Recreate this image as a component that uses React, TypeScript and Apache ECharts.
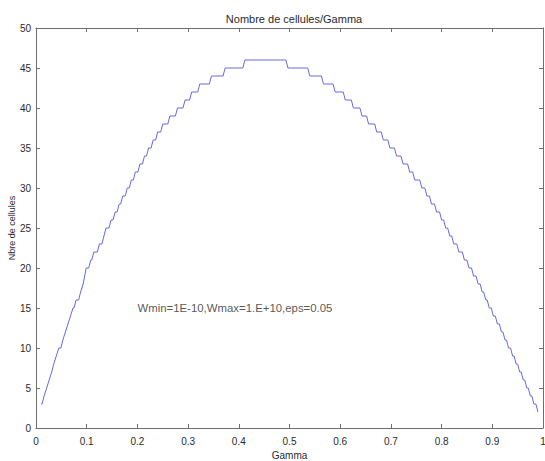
import React, { useEffect, useRef } from "react";
import * as echarts from "echarts";

const titleText = "Nombre de cellules/Gamma";
const xName = "Gamma";
const yName = "Nbre de cellules";
const annotationText = "Wmin=1E-10,Wmax=1.E+10,eps=0.05";
const annotationPos = [0.2, 15];

// gamma at which each cell-count level begins (staircase breakpoints)
const gammaBreaks = [
  0.010, 0.016, 0.021, 0.026, 0.031, 0.035, 0.040, 0.045, 0.053, 0.058,
  0.063, 0.068, 0.073, 0.079, 0.088, 0.093, 0.096, 0.099, 0.108, 0.114,
  0.125, 0.134, 0.138, 0.148, 0.156, 0.164, 0.171, 0.180, 0.188, 0.196,
  0.205, 0.214, 0.222, 0.231, 0.240, 0.250, 0.264, 0.279, 0.294, 0.307,
  0.323, 0.346, 0.373, 0.412,
  0.497, 0.540, 0.567, 0.590, 0.610, 0.626, 0.643, 0.656, 0.672, 0.685,
  0.698, 0.711, 0.724, 0.737, 0.747, 0.761, 0.771, 0.780, 0.790, 0.800,
  0.808, 0.816, 0.824, 0.834, 0.845, 0.854, 0.863, 0.872, 0.880, 0.887,
  0.894, 0.902, 0.910, 0.918, 0.925, 0.932, 0.940, 0.947, 0.954, 0.961,
  0.968, 0.975, 0.982, 0.990,
];
const cellCounts = [
  3, 4, 5, 6, 7, 8, 9, 10, 11, 12,
  13, 14, 15, 16, 17, 18, 19, 20, 21, 22,
  23, 24, 25, 26, 27, 28, 29, 30, 31, 32,
  33, 34, 35, 36, 37, 38, 39, 40, 41, 42,
  43, 44, 45, 46,
  45, 44, 43, 42, 41, 40, 39, 38, 37, 36,
  35, 34, 33, 32, 31, 30, 29, 28, 27, 26,
  25, 24, 23, 22, 21, 20, 19, 18, 17, 16,
  15, 14, 13, 12, 11, 10, 9, 8, 7, 6,
  5, 4, 3, 2,
];
// width (in gamma) of the slanted riser between two levels
const riserWidth = 0.004;

const FONT = "'Liberation Sans', Arial, sans-serif";
const AXIS_COLOR = "#6e6e6e";
const TEXT_COLOR = "#2a2a2a";

export default function App() {
  const ref = useRef<HTMLDivElement>(null);
  useEffect(() => {
    if (!ref.current) return;
    const chart = echarts.init(ref.current, undefined, { renderer: "svg" });
    const data: number[][] = [];
    gammaBreaks.forEach((g, i) => {
      data.push([g, cellCounts[i]]);
      const next = gammaBreaks[i + 1];
      if (next !== undefined && next - g > riserWidth) {
        data.push([next - riserWidth, cellCounts[i]]);
      }
    });
    const axisLine = { show: true, onZero: false, lineStyle: { color: AXIS_COLOR, width: 1 } };
    const axisTick = { show: true, inside: true, length: 4, lineStyle: { color: AXIS_COLOR } };
    chart.setOption({
      animation: false,
      backgroundColor: "#ffffff",
      textStyle: { fontFamily: FONT },
      title: {
        text: titleText,
        left: 289,
        top: 8,
        textAlign: "center",
        textStyle: { fontSize: 11, fontWeight: "normal", color: TEXT_COLOR, fontFamily: FONT },
      },
      grid: {
        left: 36,
        right: 2,
        top: 28,
        bottom: 33,
        containLabel: false,
        outerBoundsMode: "none",
      },
      xAxis: [
        {
          type: "value",
          min: 0,
          max: 1,
          interval: 0.1,
          position: "bottom",
          name: xName,
          nameLocation: "middle",
          nameGap: 17,
          nameTextStyle: { fontSize: 10, color: TEXT_COLOR, fontFamily: FONT },
          axisLine,
          axisTick,
          splitLine: { show: false },
          axisLabel: { fontSize: 10, color: TEXT_COLOR, margin: 8, fontFamily: FONT },
        },
        {
          type: "value",
          min: 0,
          max: 1,
          interval: 0.1,
          position: "top",
          axisLine,
          axisTick,
          splitLine: { show: false },
          axisLabel: { show: false },
        },
      ],
      yAxis: [
        {
          type: "value",
          min: 0,
          max: 50,
          interval: 5,
          position: "left",
          name: yName,
          nameLocation: "middle",
          nameGap: 20,
          nameMoveOverlap: false,
          nameRotate: 90,
          nameTextStyle: { fontSize: 9, color: TEXT_COLOR, fontFamily: FONT },
          axisLine,
          axisTick,
          splitLine: { show: false },
          axisLabel: { fontSize: 10, color: TEXT_COLOR, margin: 5, fontFamily: FONT },
        },
        {
          type: "value",
          min: 0,
          max: 50,
          interval: 5,
          position: "right",
          axisLine,
          axisTick,
          splitLine: { show: false },
          axisLabel: { show: false },
        },
      ],
      series: [
        {
          type: "line",
          data,
          showSymbol: false,
          symbol: "none",
          lineStyle: { color: "#6868e0", width: 1 },
          silent: true,
        },
        {
          type: "scatter",
          data: [annotationPos],
          symbolSize: 0,
          silent: true,
          label: {
            show: true,
            formatter: annotationText,
            position: "inside",
            align: "left",
            verticalAlign: "middle",
            fontSize: 11.4,
            color: TEXT_COLOR,
            fontFamily: FONT,
          },
        },
      ],
    });
    return () => chart.dispose();
  }, []);
  return (
    <div
      ref={ref}
      style={{ position: "fixed", left: 0, top: 0, width: 545, height: 461, background: "#fff" }}
    />
  );
}
